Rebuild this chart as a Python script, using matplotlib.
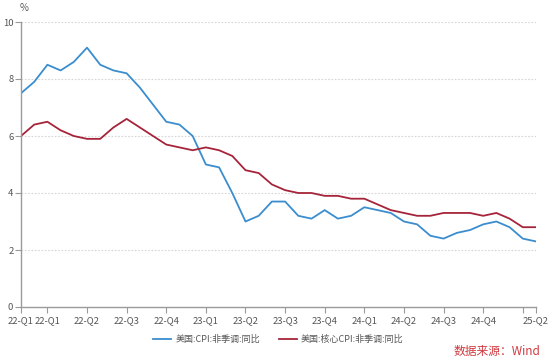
import numpy as np
import matplotlib
matplotlib.use("Agg")
import matplotlib.pyplot as plt

plt.rcParams['font.family'] = ['Noto Sans CJK SC', 'DejaVu Sans']

# monthly, 2022-01 .. 2025-04
cpi = [7.5, 7.9, 8.5, 8.3, 8.6, 9.1, 8.5, 8.3, 8.2, 7.7, 7.1, 6.5,
       6.4, 6.0, 5.0, 4.9, 4.0, 3.0, 3.2, 3.7, 3.7, 3.2, 3.1, 3.4,
       3.1, 3.2, 3.5, 3.4, 3.3, 3.0, 2.9, 2.5, 2.4, 2.6, 2.7, 2.9,
       3.0, 2.8, 2.4, 2.3]
core_cpi = [6.0, 6.4, 6.5, 6.2, 6.0, 5.9, 5.9, 6.3, 6.6, 6.3, 6.0, 5.7,
            5.6, 5.5, 5.6, 5.5, 5.3, 4.8, 4.7, 4.3, 4.1, 4.0, 4.0, 3.9,
            3.9, 3.8, 3.8, 3.6, 3.4, 3.3, 3.2, 3.2, 3.3, 3.3, 3.3, 3.2,
            3.3, 3.1, 2.8, 2.8]
tick_idx = [0, 2, 5, 8, 11, 14, 17, 20, 23, 26, 29, 32, 35, 38, 39]
tick_labels = ['22-Q1', '22-Q1', '22-Q2', '22-Q3', '22-Q4', '23-Q1', '23-Q2',
               '23-Q3', '23-Q4', '24-Q1', '24-Q2', '24-Q3', '24-Q4', '', '25-Q2']
y_ticks = [0, 2, 4, 6, 8, 10]

blue = '#3a8dcf'
red = '#a6243a'
gray = '#9a9a9a'
text_c = '#555555'

fig = plt.figure(figsize=(5.54, 3.62), dpi=100)
ax = fig.add_axes([21 / 554, 1 - 307 / 362, 515 / 554, 285 / 362])

x = np.arange(len(cpi))
ax.plot(x, cpi, color=blue, lw=1.3, label='美国:CPI:非季调:同比')
ax.plot(x, core_cpi, color=red, lw=1.3, label='美国:核心CPI:非季调:同比')

ax.set_xlim(0, len(cpi) - 1)
ax.set_ylim(0, 10)
ax.set_xticks(tick_idx)
ax.set_xticklabels(tick_labels)
ax.set_yticks(y_ticks)
ax.tick_params(axis='both', colors=gray, labelcolor=text_c, labelsize=6.8,
               length=4, width=0.8)
ax.tick_params(axis='x', pad=2.5)
ax.tick_params(axis='y', pad=1.5)

for g in y_ticks[1:]:
    ax.axhline(g, color='#d6d6d6', lw=0.8, ls=(0, (1.5, 1.5)), zorder=0)

for s in ['top', 'right']:
    ax.spines[s].set_visible(False)
for s in ['left', 'bottom']:
    ax.spines[s].set_color(gray)
    ax.spines[s].set_linewidth(1.0)

fig.text(20 / 554, 1 - 8 / 362, '%', fontsize=7, color=text_c, va='center')

ax.legend(loc='upper center', bbox_to_anchor=(0.5, -0.07), ncol=2,
          frameon=False, fontsize=6.5, handlelength=2.0, columnspacing=2.0,
          handletextpad=0.5, labelcolor=text_c)

fig.text(540 / 554, 1 - 351 / 362, '数据来源：Wind', fontsize=8.5,
         color='#d0393f', ha='right', va='center')

fig.savefig('out.png', dpi=100)
